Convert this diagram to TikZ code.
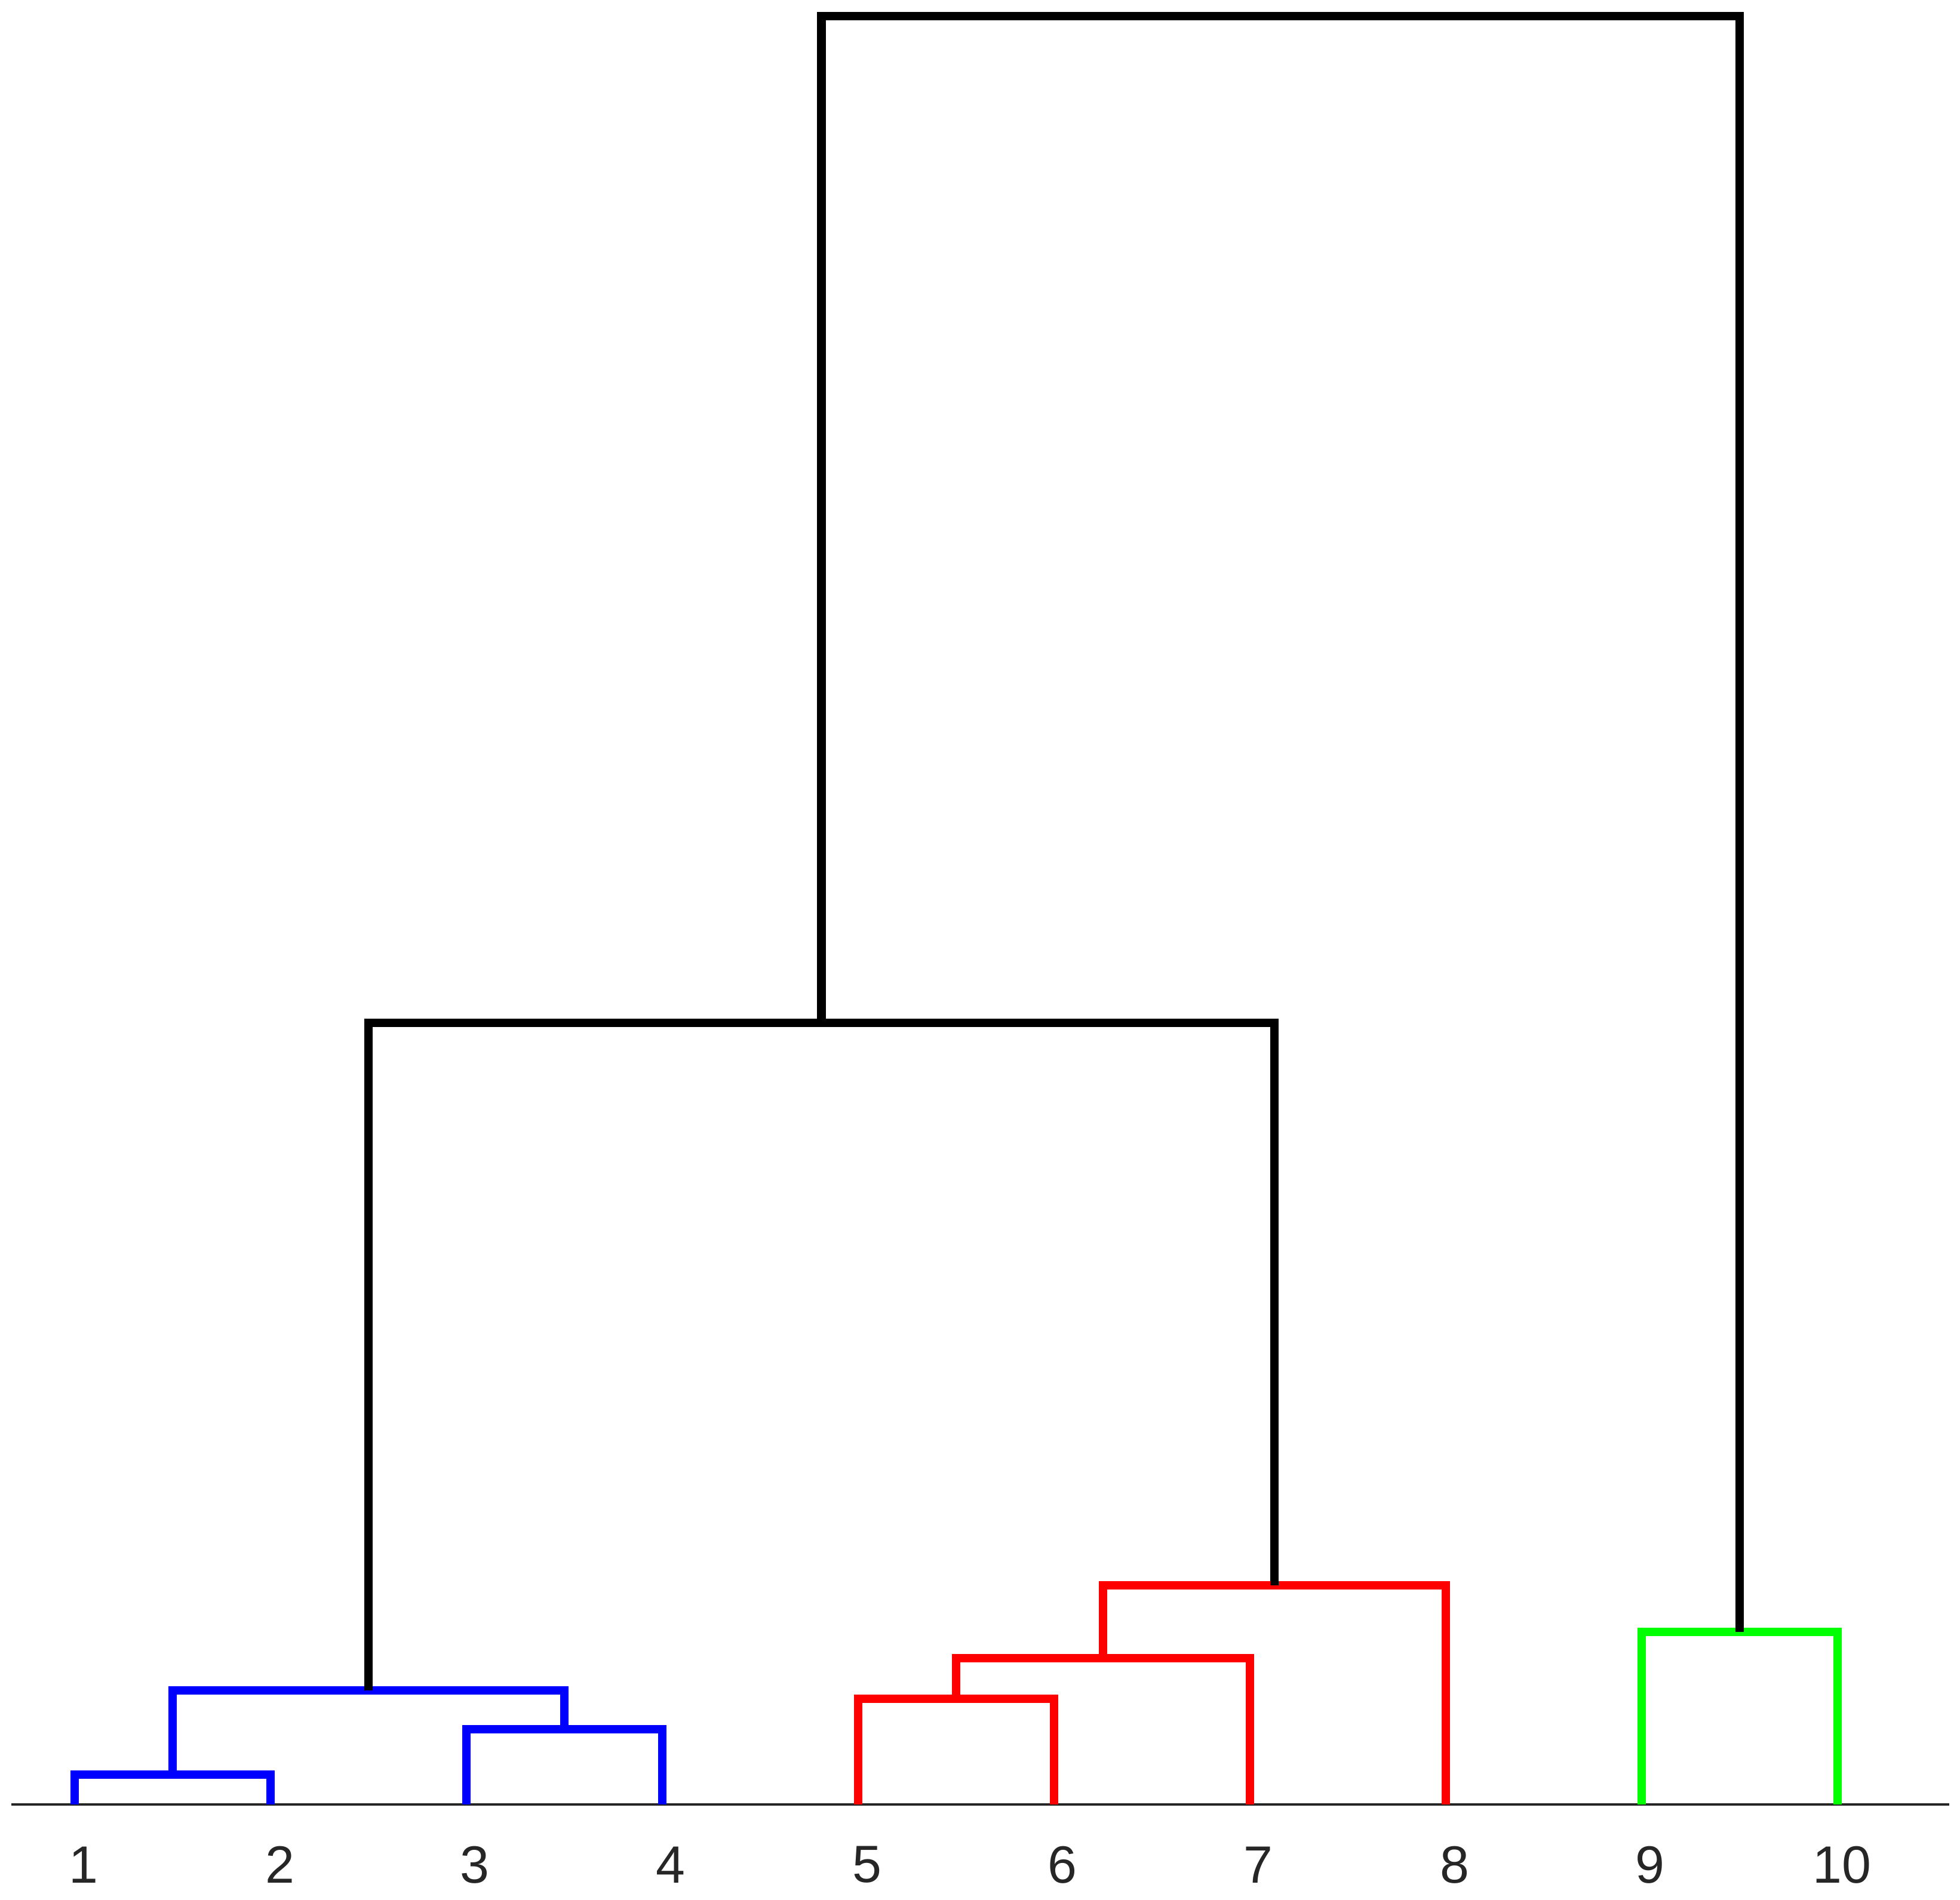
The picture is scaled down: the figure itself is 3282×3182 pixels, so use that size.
\documentclass[tikz,border=0pt]{standalone}
\usepackage{fontspec}
\setmainfont{Liberation Sans}
\definecolor{cblue}{RGB}{0,0,255}
\definecolor{cred}{RGB}{255,0,0}
\definecolor{cgreen}{RGB}{0,255,0}
\definecolor{axisgray}{RGB}{38,38,38}
\begin{document}
\begin{tikzpicture}[x=0.01cm,y=-0.01cm,
  link/.style={line width=4.2pt, line join=miter},
  axisline/.style={draw=axisgray, line width=1.2pt},
  leaflabel/.style={inner sep=0pt, text=axisgray, font=\fontsize{25}{30}\selectfont}]
\useasboundingbox (0,0) rectangle (3282,3182);
% leaves
\coordinate (L1) at (125,3022);
\coordinate (L2) at (453,3022);
\coordinate (L3) at (781,3022);
\coordinate (L4) at (1109,3022);
\coordinate (L5) at (1437,3022);
\coordinate (L6) at (1765,3022);
\coordinate (L7) at (2093,3022);
\coordinate (L8) at (2421,3022);
\coordinate (L9) at (2749,3022);
\coordinate (L10) at (3077,3022);
% merges
\coordinate (A12) at (289,2972);
\coordinate (A34) at (945,2896);
\coordinate (AB) at (617,2831);
\coordinate (A56) at (1601,2845);
\coordinate (A567) at (1847,2777);
\coordinate (AR) at (2134,2655);
\coordinate (AG) at (2913,2733);
\coordinate (ABR) at (1375.5,1713);
\coordinate (AT) at (2144,27);
% axis
\coordinate (X0) at (19,3022);
\coordinate (X1) at (3264,3022);
\draw[axisline] (X0) -- (X1);
% blue cluster
\draw[link, cblue] (L1) |- (A12) -| (L2);
\draw[link, cblue] (L3) |- (A34) -| (L4);
\draw[link, cblue] (A12) |- (AB) -| (A34);
% red cluster
\draw[link, cred] (L5) |- (A56) -| (L6);
\draw[link, cred] (A56) |- (A567) -| (L7);
\draw[link, cred] (A567) |- (AR) -| (L8);
% green cluster
\draw[link, cgreen] (L9) |- (AG) -| (L10);
% black links
\draw[link, black] (AB) |- (ABR) -| (AR);
\draw[link, black] (ABR) |- (AT) -| (AG);
% labels
\node[leaflabel] (t1) at (140,3123) {1};
\node[leaflabel] (t2) at (469,3123) {2};
\node[leaflabel] (t3) at (795,3123) {3};
\node[leaflabel] (t4) at (1123,3123) {4};
\node[leaflabel] (t5) at (1452,3123) {5};
\node[leaflabel] (t6) at (1779,3123) {6};
\node[leaflabel] (t7) at (2107,3123) {7};
\node[leaflabel] (t8) at (2436,3123) {8};
\node[leaflabel] (t9) at (2763,3123) {9};
\node[leaflabel] (t10) at (3084,3123) {10};
\end{tikzpicture}
\end{document}
